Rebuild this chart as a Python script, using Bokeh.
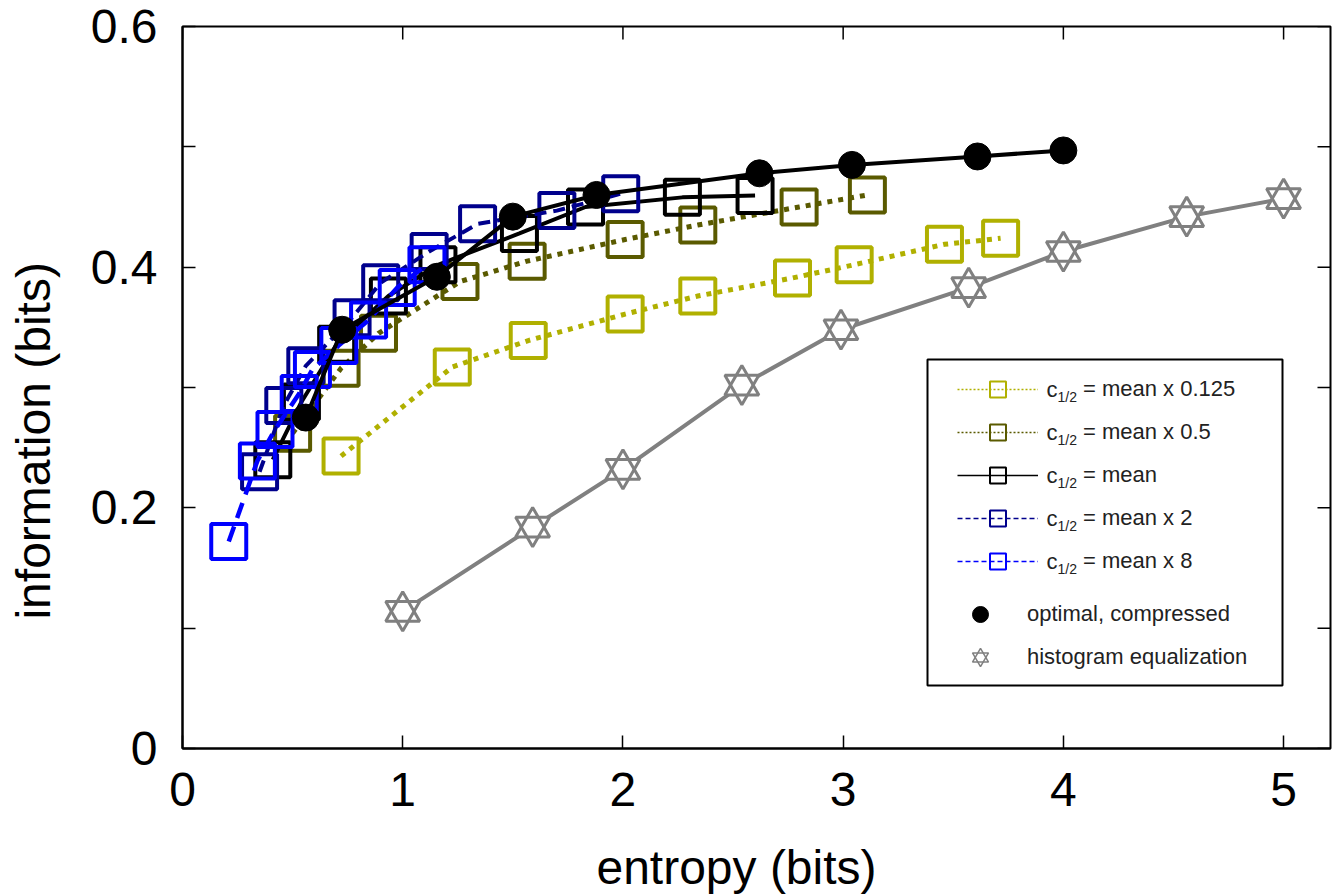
from bokeh.plotting import figure
from bokeh.models import (Range1d, FixedTicker, Legend, LegendItem, BoxAnnotation, Label)
from bokeh.embed import file_html
from bokeh.resources import INLINE

# ---------------- data ----------------
hist_x = [1.00, 1.59, 2.00, 2.54, 2.99, 3.57, 4.00, 4.56, 5.00]
hist_y = [0.114, 0.184, 0.232, 0.302, 0.348, 0.383, 0.413, 0.442, 0.457]

opt_x = [0.56, 0.725, 1.155, 1.50, 1.88, 2.62, 3.04, 3.61, 4.00]
opt_y = [0.275, 0.348, 0.392, 0.442, 0.460, 0.478, 0.485, 0.492, 0.497]

c0125_x = [0.72, 1.225, 1.57, 2.01, 2.34, 2.77, 3.05, 3.46, 3.715]
c0125_y = [0.243, 0.317, 0.339, 0.361, 0.376, 0.391, 0.402, 0.419, 0.424]

c05_x = [0.50, 0.72, 0.89, 1.26, 1.565, 2.01, 2.34, 2.80, 3.11]
c05_y = [0.262, 0.316, 0.345, 0.388, 0.405, 0.423, 0.435, 0.450, 0.460]

c1_x = [0.41, 0.54, 0.70, 0.935, 1.16, 1.53, 1.83, 2.27, 2.60]
c1_y = [0.240, 0.288, 0.336, 0.376, 0.402, 0.428, 0.450, 0.458, 0.4595]

c2_x = [0.35, 0.46, 0.56, 0.77, 0.90, 1.12, 1.34, 1.70, 1.99]
c2_y = [0.230, 0.285, 0.318, 0.358, 0.387, 0.413, 0.436, 0.447, 0.461]

c8_x = [0.21, 0.34, 0.42, 0.53, 0.59, 0.71, 0.845, 0.975, 1.11]
c8_y = [0.172, 0.239, 0.265, 0.295, 0.315, 0.335, 0.356, 0.383, 0.402]

x_ticks = [0, 1, 2, 3, 4, 5]
y_ticks = [0, 0.2, 0.4, 0.6]
y_minor = [0.1, 0.3, 0.5]

series_labels = ["= mean x 0.125", "= mean x 0.5", "= mean", "= mean x 2", "= mean x 8"]
marker_labels = ["optimal, compressed", "histogram equalization"]
x_label = "entropy (bits)"
y_label = "information (bits)"

# ---------------- styles / layout ----------------
FONT = "Liberation Sans"
YELLOW = "#B0B000"
OLIVE = "#5A5A00"
BLACK = "#000000"
NAVY = "#00008C"
BLUE = "#0000FF"
GRAY = "#808080"
LEGTXT = "#222222"
NBSP = "\u00a0"

W, H = 1332, 896
FL, FT, FW, FH = 182, 26, 1148, 722
XMAX, YMAX = 5.213, 0.6
SX, SY = FW / XMAX, FH / YMAX
TICK = 13
FB = FT + FH  # page y of the frame bottom


def px2x(px):  # page pixel -> data x
    return (px - FL) / SX


def py2y(py):  # page pixel -> data y
    return (FB - py) / SY


# the reference's axis titles sit off-centre; trailing no-break spaces shift them
p = figure(width=W, height=H, output_backend="svg", toolbar_location=None,
           x_range=Range1d(0, XMAX), y_range=Range1d(0, YMAX),
           min_border_left=FL, min_border_right=W - FL - FW,
           min_border_top=FT, min_border_bottom=H - FT - FH,
           x_axis_label=x_label + NBSP * 3, y_axis_label=y_label + NBSP * 8)
p.grid.visible = False
p.outline_line_color = "black"
p.outline_line_width = 2
p.background_fill_color = "white"
p.border_fill_color = "white"

for ax in (p.xaxis[0], p.yaxis[0]):
    ax.axis_line_color = "black"
    ax.axis_line_width = 2
    ax.major_tick_in = TICK
    ax.major_tick_out = 0
    ax.minor_tick_in = TICK
    ax.minor_tick_out = 0
    ax.major_tick_line_width = 1.5
    ax.minor_tick_line_width = 1.5
    ax.major_label_text_font = FONT
    ax.major_label_text_font_size = "48px"
    ax.major_label_text_color = "black"
    ax.axis_label_text_font = FONT
    ax.axis_label_text_font_size = "48px"
    ax.axis_label_text_font_style = "normal"
    ax.axis_label_text_color = "black"

p.xaxis[0].ticker = FixedTicker(ticks=x_ticks)
p.xaxis[0].major_label_standoff = 24
p.xaxis[0].axis_label_standoff = 32
p.yaxis[0].ticker = FixedTicker(ticks=y_ticks, minor_ticks=y_minor)
p.yaxis[0].major_label_overrides = {0: "0"}
p.yaxis[0].major_label_standoff = 25
p.yaxis[0].axis_label_standoff = 28

# inward ticks on the top and right frame edges
all_y = sorted(y_ticks + y_minor)
p.segment(x0=x_ticks, y0=[YMAX] * len(x_ticks), x1=x_ticks,
          y1=[YMAX - TICK / SY] * len(x_ticks), line_color="black", line_width=1.5)
p.segment(x0=[XMAX] * len(all_y), y0=all_y, x1=[XMAX - TICK / SX] * len(all_y),
          y1=all_y, line_color="black", line_width=1.5)

# ---------------- data marks ----------------
SQ = 35
p.line(hist_x, hist_y, line_color=GRAY, line_width=4)
for m in ("triangle", "inverted_triangle"):
    p.scatter(hist_x, hist_y, marker=m, size=34, fill_color="white", line_color=None)
for m in ("triangle", "inverted_triangle"):
    p.scatter(hist_x, hist_y, marker=m, size=34, fill_color=None, line_color=GRAY, line_width=3)

curves = [
    (c0125_x, c0125_y, YELLOW, "5 6", 5),
    (c05_x, c05_y, OLIVE, "5 6", 5),
    (c1_x, c1_y, BLACK, "solid", 4),
    (c2_x, c2_y, NAVY, "12 7", 4),
    (c8_x, c8_y, BLUE, "16 9", 4.5),
]
for xs, ys, col, dash, lw in curves:
    p.line(xs, ys, line_color=col, line_width=lw, line_dash=dash)
    p.scatter(xs, ys, marker="square", size=SQ, fill_color=None, line_color=col, line_width=4)

p.line(opt_x, opt_y, line_color=BLACK, line_width=4)
p.scatter(opt_x, opt_y, marker="circle", size=27, fill_color=BLACK, line_color=BLACK)

# ---------------- legend ----------------
p.add_layout(BoxAnnotation(left=px2x(927), right=px2x(1282), top=py2y(359), bottom=py2y(685),
                           fill_color="white", fill_alpha=1, line_color="black",
                           line_alpha=1, line_width=2))

NAN = [float("nan")]
leg_styles = [(YELLOW, "2 2"), (OLIVE, "2 2"), (BLACK, "solid"), (NAVY, "5 3"), (BLUE, "5 3")]
items = []
for (col, dash), lab in zip(leg_styles, series_labels):
    r1 = p.line(x=NAN, y=NAN, line_color=col, line_width=1.5, line_dash=dash)
    r2 = p.scatter(x=NAN, y=NAN, marker="square", fill_color=None, line_color=col, line_width=2)
    items.append(LegendItem(label=lab, renderers=[r1, r2]))

common = dict(orientation="vertical", glyph_height=40, label_height=40, spacing=3,
              padding=0, margin=0, border_line_color=None, background_fill_alpha=0,
              label_text_font=FONT, label_text_font_size="22px", label_text_color=LEGTXT)
leg1 = Legend(items=items, location=(957 - FL, FB - 581), glyph_width=81,
              label_standoff=45, **common)
p.add_layout(leg1)

ro = p.scatter(x=NAN, y=NAN, marker="circle", fill_color=BLACK, line_color=BLACK)
rs1 = p.scatter(x=NAN, y=NAN, marker="triangle", fill_color=None, line_color=GRAY, line_width=1.5)
rs2 = p.scatter(x=NAN, y=NAN, marker="inverted_triangle", fill_color=None, line_color=GRAY,
                line_width=1.5)
leg2 = Legend(items=[LegendItem(label=marker_labels[0], renderers=[ro]),
                     LegendItem(label=marker_labels[1], renderers=[rs1, rs2])],
              location=(960 - FL, FB - 676.5), glyph_width=40,
              label_standoff=27, **common)
p.add_layout(leg2)

# "c" with subscript "1/2" before each series label
for i in range(len(series_labels)):
    yc = 389 + 43 * i
    p.add_layout(Label(x=px2x(1046), y=py2y(yc), text="c", text_font=FONT,
                       text_font_size="22px", text_baseline="middle", text_align="left",
                       text_color=LEGTXT))
    p.add_layout(Label(x=px2x(1057), y=py2y(yc + 7), text="1/2", text_font=FONT,
                       text_font_size="14px", text_baseline="middle", text_align="left",
                       text_color=LEGTXT))

open("out.html", "w").write(file_html(p, INLINE))
